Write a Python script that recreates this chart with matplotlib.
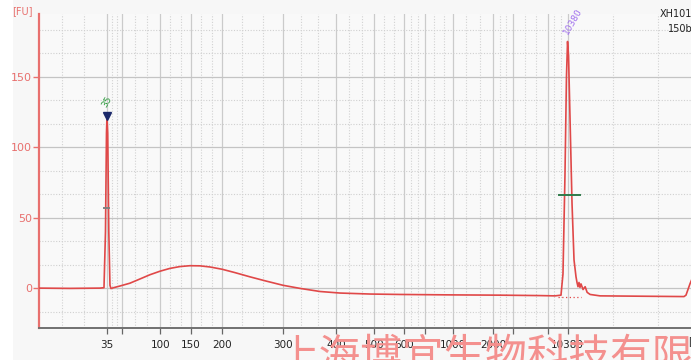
import numpy as np
import matplotlib
matplotlib.use("Agg")
import matplotlib.pyplot as plt
from matplotlib.patches import Rectangle

# ladder sizes (bp) and their migration times (s)
ladder_bp = [35, 50, 100, 150, 200, 300, 400, 500, 600, 700, 1000, 2000, 3000, 7000, 10380]
ladder_t = [43.2, 45.0, 49.6, 53.3, 57.05, 64.4, 70.8, 75.4, 79.0, 81.5, 84.9, 89.7, 92.1, 96.3, 98.7]
hidden_bp = [50, 700, 3000, 7000]

# electropherogram trace: time (s), fluorescence (FU)
trace_t = [35.00, 38.73, 42.35, 42.83, 43.01, 43.13, 43.19, 43.28, 43.41, 43.55, 43.67,
           43.92, 44.76, 45.96, 47.17, 48.37, 49.58, 50.78, 51.99, 53.19, 54.40, 55.60,
           57.05, 58.61, 60.42, 62.23, 64.40, 66.45, 68.86, 71.27, 74.88, 78.49, 84.52,
           90.54, 95.36, 97.17, 97.89, 98.13, 98.37, 98.55, 98.68, 98.80, 98.98, 99.22,
           99.46, 99.70, 99.82, 99.94, 100.06, 100.18, 100.30, 100.55, 100.80, 101.04,
           101.40, 102.59, 108.61, 112.71, 112.95, 113.19, 113.43, 113.92]
trace_fu = [0.0, -0.2, 0.0, 0.3, 40, 110, 122, 110, 40, 2, -0.3,
            0.2, 1.5, 3.5, 6.5, 9.5, 12.0, 14.0, 15.3, 15.9, 15.8, 15.0,
            13.4, 11.0, 8.0, 5.2, 2.0, -0.2, -2.4, -3.5, -4.2, -4.5, -4.8,
            -5.0, -5.3, -5.5, -5.0, 10, 80, 150, 175, 165, 120, 60,
            20, 8, 4, 1, 4, 0.5, 3, -1, 1, -3,
            -4.5, -5.5, -5.8, -6.0, -5.0, -1.0, 3.0, 10.0]

# markers: lower 35 bp, upper 10380 bp
lower_t, lower_fu, lower_half = 43.19, 122, 57
upper_t, upper_fu, upper_half = 98.68, 175, 66

xmin, xmax = 35.0, 115.0
ymin, ymax = -28.3, 194.5
red = "#e8706e"
line_red = "#e04848"

fig = plt.figure(figsize=(6.91, 3.60), dpi=100, facecolor="white")
fig.patches.append(Rectangle((13 / 691, 0), 1, 1, transform=fig.transFigure,
                             facecolor="#f7f7f7", edgecolor="none", zorder=-10))
ax = fig.add_axes([39 / 691, 32 / 360, 664 / 691, 314 / 360])
ax.set_facecolor("#f9f9f9")
ax.set_xlim(xmin, xmax)
ax.set_ylim(ymin, ymax)

# grid: solid at ladder / every 50 FU, dotted thirds in between
bounds = [xmin] + ladder_t + [xmax]
for a, b in zip(bounds[:-1], bounds[1:]):
    for f in (1 / 3, 2 / 3):
        ax.axvline(a + (b - a) * f, color="#d2d2d2", lw=0.8, ls=(0, (1, 1.5)), zorder=0)
for t in ladder_t:
    ax.axvline(t, color="#cbcbcb", lw=0.9, zorder=0)
for y in np.arange(-50, 200, 50 / 3):
    if abs(y / 50 - round(y / 50)) < 1e-6:
        ax.axhline(y, color="#c4c4c4", lw=0.9, zorder=0)
    else:
        ax.axhline(y, color="#d0d0d0", lw=0.8, ls=(0, (1, 1.5)), zorder=0)

ax.plot(trace_t, trace_fu, color=line_red, lw=1.2, zorder=3)

# baseline dots under the upper marker
ax.plot([97.5, 100.3], [-6.5, -6.5], color=line_red, lw=0.9, ls=(0, (1, 2)), zorder=3)

# marker annotations
ax.plot([lower_t - 0.3, lower_t + 0.3], [lower_half, lower_half], color="#808080", lw=1.4, zorder=4)
ax.plot([upper_t - 1.0, upper_t + 1.5], [upper_half, upper_half], color="#2f7a4a", lw=1.4, zorder=4)
ax.plot([lower_t], [lower_fu], marker="v", color="#1c2a6b", ms=6, zorder=5)
ax.text(lower_t, lower_fu + 10, "35", color="#2e9a3e", fontsize=6.5, rotation=60,
        ha="center", va="center")
ax.text(upper_t + 0.7, upper_fu + 14, "10380", color="#a070ee", fontsize=6.5, rotation=60,
        ha="center", va="center")

# axes styling
for s in ("top", "right"):
    ax.spines[s].set_visible(False)
ax.spines["left"].set_color(red)
ax.spines["left"].set_linewidth(1.6)
ax.spines["bottom"].set_color("#707070")
ax.spines["bottom"].set_linewidth(1.4)

ax.set_yticks([0, 50, 100, 150])
ax.tick_params(axis="y", colors=red, labelcolor=red, labelsize=8, length=4, width=1, pad=1)
ax.set_xticks(ladder_t)
ax.set_xticklabels(["" if b in hidden_bp else str(b) for b in ladder_bp])
ax.tick_params(axis="x", colors="#666666", labelcolor="#222222", labelsize=7.5,
               length=4, width=0.9, pad=5)

fig.text(12 / 691, 1 - 11 / 360, "[FU]", color=red, fontsize=7, ha="left", va="center")
fig.text(688 / 691, 1 - 342 / 360, "[bp]", color="#333333", fontsize=7.5, ha="left", va="center")
fig.text(660 / 691, 1 - 14 / 360, "XH1010", color="#222222", fontsize=7, ha="left", va="center")
fig.text(668 / 691, 1 - 29 / 360, "150bp", color="#222222", fontsize=7, ha="left", va="center")

fig.text(278 / 691, 1 - 337 / 360, "上海博宜生物科技有限公司", color="#f4908e", fontsize=30,
         family=["Noto Sans CJK SC", "DejaVu Sans"], ha="left", va="top", zorder=20)

fig.savefig("out.png", dpi=100, facecolor=fig.get_facecolor())
